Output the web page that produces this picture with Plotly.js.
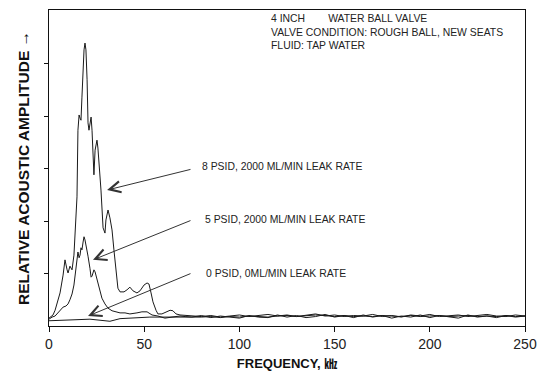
<!DOCTYPE html>
<html>
<head>
<meta charset="utf-8">
<script src="https://cdn.plot.ly/plotly-3.0.1.min.js"></script>
<style>html,body{margin:0;padding:0;background:#fff;}#chart{width:537px;height:372px;}</style>
</head>
<body>
<div id="chart"></div>
<script>
// ---- data (frequency in kHz, relative amplitude) ----
const freq8 = [0, 2.1, 3.2, 5.8, 7.4, 8.4, 9.5, 10.0, 11.0, 12.1, 13.1, 14.2, 14.7, 15.2, 15.8, 16.3, 16.8, 17.3, 17.9, 18.4, 18.9, 19.4, 20.0, 20.5, 21.0, 21.5, 22.1, 22.6, 23.1, 23.6, 24.2, 24.7, 25.2, 25.7, 26.8, 27.3, 28.4, 29.4, 29.9, 31.0, 32.0, 33.1, 34.1, 35.2, 36.2, 37.3, 39.4, 41.0, 42.5, 44.1, 46.2, 47.8, 49.9, 51.5, 52.5, 53.6, 54.6, 56.2, 57.2, 59.3, 61.4, 63.6, 65.1, 66.7, 68.8, 71.5];
const amp8  = [0.15, 0.21, 0.30, 0.63, 0.97, 1.26, 1.07, 1.01, 1.14, 1.07, 1.35, 2.02, 2.46, 3.73, 4.02, 3.96, 3.92, 4.36, 4.88, 5.26, 5.39, 5.26, 4.69, 3.87, 3.73, 3.89, 3.98, 3.73, 3.22, 2.88, 3.35, 3.50, 3.54, 3.39, 2.88, 2.59, 1.87, 1.77, 2.02, 2.21, 2.06, 1.83, 1.45, 1.07, 0.72, 0.65, 0.65, 0.69, 0.74, 0.67, 0.63, 0.67, 0.78, 0.82, 0.80, 0.63, 0.46, 0.30, 0.23, 0.23, 0.27, 0.30, 0.29, 0.23, 0.21, 0.20];

const freq5 = [0, 1.6, 3.2, 4.7, 6.3, 7.4, 8.9, 10.0, 11.0, 12.1, 13.1, 14.2, 14.7, 15.2, 15.8, 16.3, 16.8, 17.3, 17.9, 18.4, 18.9, 19.4, 20.5, 21.5, 22.1, 22.6, 23.6, 24.2, 25.2, 26.3, 27.8, 29.4, 31.0, 33.1, 35.2, 37.3, 39.9, 42.5, 46.2, 48.8, 51.5, 54.1, 57.2, 60.9, 64.6, 68.8, 71.5];
const amp5  = [0.13, 0.17, 0.19, 0.25, 0.30, 0.36, 0.38, 0.42, 0.50, 0.61, 0.78, 1.07, 1.22, 1.41, 1.30, 1.35, 1.49, 1.45, 1.60, 1.70, 1.64, 1.56, 1.33, 1.10, 0.93, 0.95, 1.07, 1.03, 0.88, 0.72, 0.53, 0.42, 0.34, 0.29, 0.27, 0.25, 0.25, 0.23, 0.25, 0.27, 0.27, 0.21, 0.19, 0.15, 0.17, 0.19, 0.18];

const freq0 = [0, 5.8, 13.7, 21.5, 26.8, 32.0, 37.3, 42.5, 53.0, 63.6, 70.0];
const amp0  = [0.10, 0.11, 0.13, 0.13, 0.11, 0.09, 0.14, 0.15, 0.17, 0.17, 0.17];

// common high-frequency tail (75 ... 250 kHz)
const freqTail = [75, 80, 85, 90, 95, 100, 105, 110, 115, 120, 125, 130, 135, 140, 145, 150, 155, 160, 165, 170, 175, 180, 185, 190, 195, 200, 205, 210, 215, 220, 225, 230, 235, 240, 245, 250];
const amp8Tail = [0.19, 0.18, 0.20, 0.17, 0.19, 0.21, 0.18, 0.20, 0.22, 0.19, 0.21, 0.18, 0.20, 0.23, 0.19, 0.21, 0.18, 0.20, 0.19, 0.22, 0.18, 0.20, 0.17, 0.21, 0.19, 0.22, 0.18, 0.20, 0.21, 0.18, 0.20, 0.22, 0.19, 0.18, 0.21, 0.19];
const amp5Tail = [0.17, 0.20, 0.16, 0.19, 0.17, 0.15, 0.20, 0.17, 0.16, 0.21, 0.17, 0.20, 0.16, 0.18, 0.22, 0.17, 0.20, 0.16, 0.21, 0.17, 0.20, 0.15, 0.19, 0.17, 0.21, 0.16, 0.20, 0.17, 0.15, 0.21, 0.17, 0.19, 0.16, 0.20, 0.17, 0.19];
const amp0Tail = [0.16, 0.17, 0.18, 0.16, 0.18, 0.17, 0.19, 0.18, 0.17, 0.19, 0.20, 0.18, 0.19, 0.21, 0.20, 0.18, 0.20, 0.18, 0.19, 0.18, 0.20, 0.19, 0.18, 0.20, 0.18, 0.19, 0.20, 0.18, 0.19, 0.20, 0.18, 0.19, 0.18, 0.20, 0.18, 0.19];

const xTickVals = [0, 50, 100, 150, 200, 250];
const xTickText = ['0', '50', '100', '150', '200', '250'];
const yTickVals = [1, 2, 3, 4, 5];

const seriesLabels = ['8 PSID, 2000 ML/MIN LEAK RATE', '5 PSID, 2000 ML/MIN LEAK RATE', '0 PSID, 0ML/MIN LEAK RATE'];
const headerLines = ['4 INCH&nbsp;&nbsp;&nbsp;&nbsp;&nbsp;&nbsp;&nbsp;&nbsp;WATER BALL VALVE', 'VALVE CONDITION: ROUGH BALL, NEW SEATS', 'FLUID: TAP WATER'];

// ---- build traces ----
const lineStyle = {color: '#1a1a1a', width: 1};
const traces = [
  {x: freq8.concat(freqTail), y: amp8.concat(amp8Tail), name: seriesLabels[0]},
  {x: freq5.concat(freqTail), y: amp5.concat(amp5Tail), name: seriesLabels[1]},
  {x: freq0.concat(freqTail), y: amp0.concat(amp0Tail), name: seriesLabels[2]}
].map(t => Object.assign(t, {type: 'scatter', mode: 'lines', line: lineStyle, hoverinfo: 'x+y+name'}));

const narrow = 'Liberation Sans Narrow, Arial Narrow, Liberation Sans, Noto Sans CJK JP, sans-serif';
const plain = 'Liberation Sans, Arial, sans-serif';
const txtFont = {family: plain, size: 10.4, color: '#222'};

// arrow annotations: head on the curve, tail near the label
const arrows = [
  {x: 30.5, y: 2.59, ax: 75.1, ay: 2.99},
  {x: 23.1, y: 1.26, ax: 75.1, ay: 2.02},
  {x: 20.5, y: 0.19, ax: 75.1, ay: 1.01}
].map(a => Object.assign(a, {xref: 'x', yref: 'y', axref: 'x', ayref: 'y', text: '', showarrow: true,
  arrowhead: 5, arrowsize: 2.2, arrowwidth: 1, arrowcolor: '#333', standoff: 0, startstandoff: 0}));

const labelPos = [{x: 79.3, y: 3.03}, {x: 80.9, y: 2.02}, {x: 81.4, y: 1.00}];
const labels = labelPos.map((p, i) => ({x: p.x, y: p.y, xref: 'x', yref: 'y', text: seriesLabels[i],
  showarrow: false, xanchor: 'left', yanchor: 'middle', font: txtFont}));

const header = [{x: 0.462, y: 0.930, xref: 'paper', yref: 'paper', text: headerLines.join('<br>'),
  showarrow: false, xanchor: 'left', yanchor: 'middle', align: 'left', font: txtFont}];

const layout = {
  width: 537, height: 372,
  margin: {l: 49, r: 12, t: 10, b: 46},
  paper_bgcolor: '#fff', plot_bgcolor: '#fff',
  showlegend: false,
  xaxis: {
    range: [0, 250], tickvals: xTickVals, ticktext: xTickText,
    ticks: 'outside', ticklen: 5, tickcolor: '#111', tickwidth: 1,
    showline: true, linecolor: '#111', linewidth: 1, mirror: true,
    showgrid: false, zeroline: false,
    tickfont: {family: narrow, size: 14, color: '#222'},
    title: {text: '<b>FREQUENCY, ㎑</b>', font: {family: narrow, size: 13, color: '#111'}, standoff: 8}
  },
  yaxis: {
    range: [0, 6.02], tickvals: yTickVals, showticklabels: false,
    ticks: 'outside', ticklen: 4, tickcolor: '#111', tickwidth: 1,
    showline: true, linecolor: '#111', linewidth: 1, mirror: true,
    showgrid: false, zeroline: false,
    title: {text: '<b>RELATIVE ACOUSTIC AMPLITUDE →</b>', font: {family: narrow, size: 15.5, color: '#111'}, standoff: 10}
  },
  annotations: arrows.concat(labels, header)
};

Plotly.newPlot('chart', traces, layout, {displayModeBar: false, staticPlot: true});
</script>
</body>
</html>
